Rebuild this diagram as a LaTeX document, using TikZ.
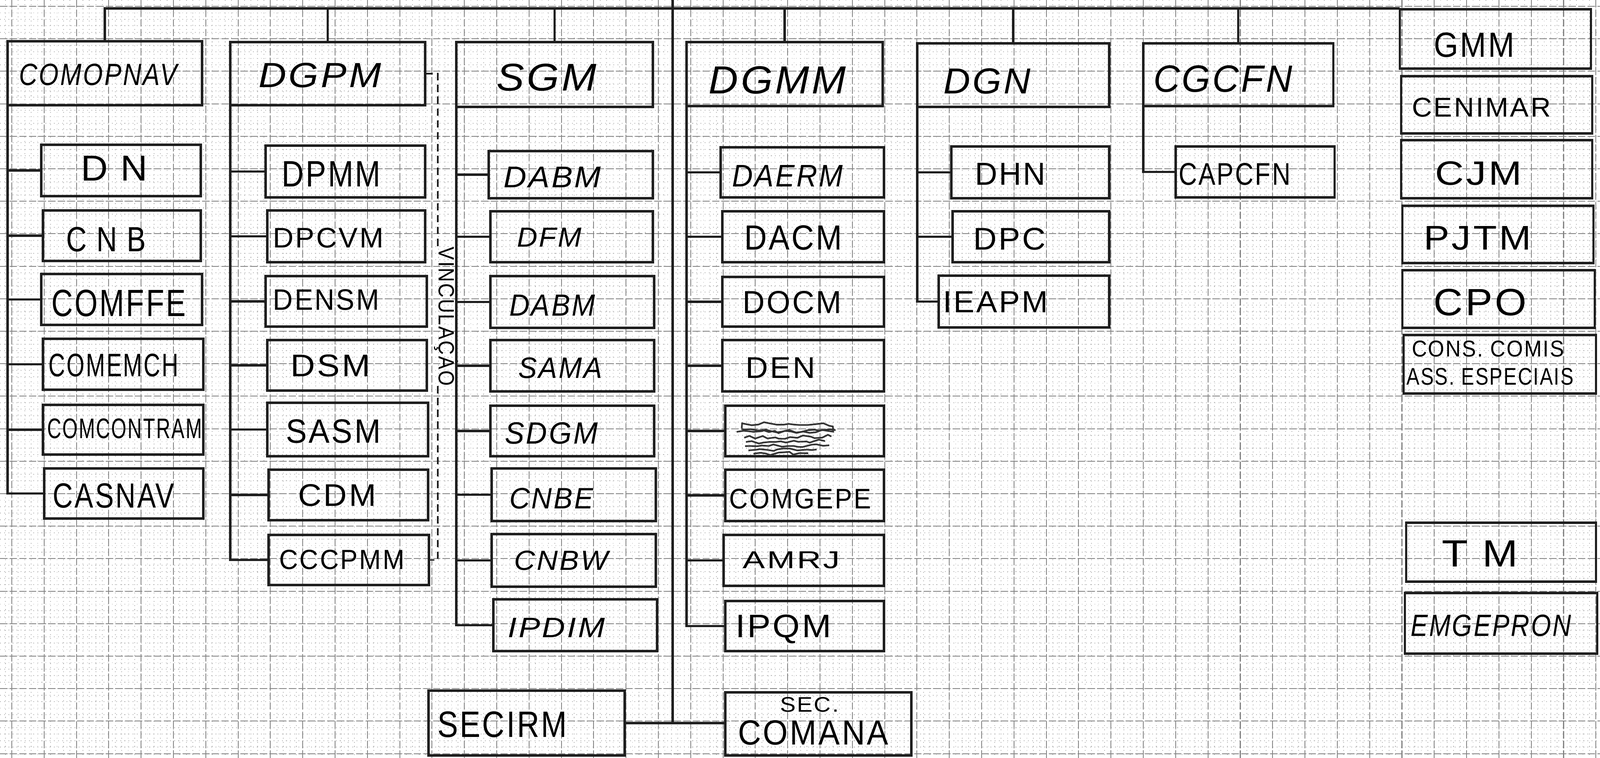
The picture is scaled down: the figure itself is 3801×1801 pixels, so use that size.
\documentclass[tikz,border=0pt]{standalone}
\usepackage{fontspec}
\usepackage{graphicx}
\setmainfont{Liberation Sans}
\newfontfamily\lf[LetterSpace=6]{Liberation Sans}
\usetikzlibrary{decorations.pathmorphing}
\newlength\pxu
\setlength\pxu{0.01cm}
\newcommand\mkbox[5]{\node[bxs, minimum width={(#4-#2)*0.01cm}, minimum height={(#5-#3)*0.01cm}] (#1) at ({(#2+#4)/2},{(#3+#5)/2}) {};}
\newcommand\mklab[6]{\node[inner sep=0pt, outer sep=0pt] (#1) at (#2,#3) {\resizebox{#4\pxu}{#5\pxu}{\lf #6}};}
\tikzset{
  mingrid/.style={black!28, line width=0.5pt, dash pattern=on 0.6pt off 2.2pt},
  majgrid/.style={black!48, line width=0.6pt, dash pattern=on 5pt off 1.5pt},
  bxs/.style={draw=black!88, line width=1.45pt, rectangle, inner sep=0pt, outer sep=0pt},
  ln/.style={black!88, line width=1.45pt},
  vinc/.style={black!88, line width=1.1pt, dash pattern=on 5pt off 3pt},
  scrib/.style={black!80, line width=1.1pt, decorate, decoration={random steps, segment length=4pt, amplitude=1.2pt}}
}
\begin{document}
\begin{tikzpicture}[x=0.01cm, y=-0.01cm]
\useasboundingbox (0,0) rectangle (3801,1801);
\fill[white] (0,0) rectangle (3801,1801);
% graph paper
\draw[mingrid] \foreach \k in {-1,...,245} {({28+15.36*\k},0) -- ({28+15.36*\k},1801)};
\draw[mingrid] \foreach \k in {-1,...,116} {(0,{15+15.44*\k}) -- (3801,{15+15.44*\k})};
\draw[majgrid] \foreach \k in {0,...,49} {({28+76.8*\k},0) -- ({28+76.8*\k},1801)};
\draw[majgrid] \foreach \k in {0,...,23} {(0,{15+77.2*\k}) -- (3801,{15+77.2*\k})};

% ---------- boxes ----------
\mkbox{COMOPNAV}{18}{98}{480}{250}
\mkbox{DN}{98}{344}{477}{466}
\mkbox{CNB}{102}{500}{477}{620}
\mkbox{COMFFE}{98}{651}{480}{772}
\mkbox{COMEMCH}{102}{805}{483}{926}
\mkbox{COMCONTRAM}{102}{962}{483}{1080}
\mkbox{CASNAV}{105}{1113}{483}{1232}

\mkbox{DGPM}{547}{100}{1010}{250}
\mkbox{DPMM}{631}{346}{1010}{469}
\mkbox{DPCVM}{635}{500}{1010}{623}
\mkbox{DENSM}{631}{656}{1014}{776}
\mkbox{DSM}{635}{808}{1014}{928}
\mkbox{SASM}{635}{957}{1017}{1084}
\mkbox{CDM}{638}{1116}{1017}{1236}
\mkbox{CCCPMM}{638}{1271}{1019}{1390}

\mkbox{SGM}{1084}{100}{1551}{254}
\mkbox{DABMa}{1161}{359}{1551}{471}
\mkbox{DFM}{1165}{502}{1551}{623}
\mkbox{DABMb}{1165}{656}{1554}{779}
\mkbox{SAMA}{1165}{808}{1554}{930}
\mkbox{SDGM}{1165}{964}{1554}{1084}
\mkbox{CNBE}{1168}{1113}{1558}{1238}
\mkbox{CNBW}{1168}{1269}{1558}{1394}
\mkbox{IPDIM}{1172}{1424}{1561}{1547}

\mkbox{DGMM}{1631}{100}{2097}{252}
\mkbox{DAERM}{1712}{350}{2100}{469}
\mkbox{DACM}{1716}{502}{2100}{623}
\mkbox{DOCM}{1716}{658}{2100}{776}
\mkbox{DEN}{1716}{808}{2100}{930}
\mkbox{XBOX}{1723}{964}{2100}{1084}
\mkbox{COMGEPE}{1723}{1116}{2100}{1238}
\mkbox{AMRJ}{1719}{1271}{2100}{1392}
\mkbox{IPQM}{1723}{1428}{2100}{1547}

\mkbox{DGN}{2179}{103}{2635}{254}
\mkbox{DHN}{2260}{348}{2635}{471}
\mkbox{DPC}{2263}{502}{2635}{623}
\mkbox{IEAPM}{2230}{655}{2635}{778}

\mkbox{CGCFN}{2716}{103}{3167}{252}
\mkbox{CAPCFN}{2793}{348}{3170}{469}

\mkbox{GMM}{3325}{22}{3779}{163}
\mkbox{CENIMAR}{3328}{181}{3782}{317}
\mkbox{CJM}{3328}{333}{3782}{471}
\mkbox{PJTM}{3331}{489}{3785}{625}
\mkbox{CPO}{3331}{642}{3788}{779}
\mkbox{CONS}{3334}{796}{3791}{935}
\mkbox{TM}{3340}{1242}{3791}{1382}
\mkbox{EMGEPRON}{3337}{1409}{3794}{1553}

\mkbox{SECIRM}{1018}{1641}{1484}{1795}
\mkbox{SECCOMANA}{1723}{1645}{2165}{1795}

% ---------- labels ----------
\mklab{tCOMOPNAV}{233}{177}{375}{51}{\itshape COMOPNAV}
\mklab{tDN}{272}{400}{158}{59}{D N}
\mklab{tCNB}{252}{569}{189}{58}{C N B}
\mklab{tCOMFFE}{282}{720}{319}{63}{COMFFE}
\mklab{tCOMEMCH}{270}{868}{308}{54}{COMEMCH}
\mklab{tCOMCONTRAM}{296}{1018}{368}{47}{COMCONTRAM}
\mklab{tCASNAV}{270}{1178}{288}{58}{CASNAV}

\mklab{tDGPM}{760}{179}{291}{58}{\itshape DGPM}
\mklab{tDPMM}{787}{414}{235}{60}{DPMM}
\mklab{tDPCVM}{780}{565}{263}{47}{DPCVM}
\mklab{tDENSM}{775}{712}{252}{49}{DENSM}
\mklab{tDSM}{785}{869}{189}{52}{DSM}
\mklab{tSASM}{792}{1025}{225}{56}{SASM}
\mklab{tCDM}{801}{1177}{185}{52}{CDM}
\mklab{tCCCPMM}{812}{1330}{298}{46}{CCCPMM}

\mklab{tSGM}{1298}{184}{238}{64}{\itshape SGM}
\mklab{tDABMa}{1312}{421}{232}{49}{\itshape DABM}
\mklab{tDFM}{1305}{564}{154}{45}{\itshape DFM}
\mklab{tDABMb}{1312}{725}{204}{50}{\itshape DABM}
\mklab{tSAMA}{1331}{874}{200}{49}{\itshape SAMA}
\mklab{tSDGM}{1310}{1029}{221}{51}{\itshape SDGM}
\mklab{tCNBE}{1310}{1184}{200}{49}{\itshape CNBE}
\mklab{tCNBW}{1333}{1332}{224}{46}{\itshape CNBW}
\mklab{tIPDIM}{1322}{1491}{231}{46}{\itshape IPDIM}

\mklab{tDGMM}{1847}{190}{326}{65}{\itshape DGMM}
\mklab{tDAERM}{1871}{418}{263}{51}{\itshape DAERM}
\mklab{tDACM}{1884}{565}{232}{58}{DACM}
\mklab{tDOCM}{1882}{718}{235}{53}{DOCM}
\mklab{tDEN}{1854}{874}{165}{49}{DEN}
\mklab{tCOMGEPE}{1901}{1185}{337}{47}{COMGEPE}
\mklab{tAMRJ}{1880}{1331}{231}{40}{AMRJ}
\mklab{tIPQM}{1861}{1495}{228}{54}{IPQM}

\mklab{tDGN}{2345}{193}{207}{60}{\itshape DGN}
\mklab{tDHN}{2400}{414}{168}{52}{DHN}
\mklab{tDPC}{2398}{568}{172}{52}{DPC}
\mklab{tIEAPM}{2365}{717}{250}{50}{IEAPM}

\mklab{tCGCFN}{2905}{187}{330}{63}{\itshape CGCFN}
\mklab{tCAPCFN}{2933}{414}{266}{52}{CAPCFN}

\mklab{tGMM}{3502}{107}{192}{58}{GMM}
\mklab{tCENIMAR}{3519}{255}{330}{45}{CENIMAR}
\mklab{tCJM}{3512}{412}{206}{56}{CJM}
\mklab{tPJTM}{3510}{566}{255}{56}{PJTM}
\mklab{tCPO}{3516}{718}{221}{63}{CPO}
\mklab{tCONSa}{3535}{829}{362}{38}{CONS.\ COMIS}
\mklab{tCONSb}{3540}{895}{397}{40}{ASS.\ ESPECIAIS}
\mklab{tTM}{3516}{1315}{181}{62}{T M}
\mklab{tEMGEPRON}{3542}{1486}{382}{51}{\itshape EMGEPRON}

\mklab{tSECIRM}{1193}{1721}{308}{61}{SECIRM}
\mklab{tSEC}{1923}{1674}{140}{35}{SEC.}
\mklab{tCOMANA}{1932}{1741}{357}{58}{COMANA}

\node[inner sep=0pt, outer sep=0pt, rotate=-90] (tVINC) at (1060,752) {\resizebox{330\pxu}{46\pxu}{\lf VINCULAÇÃO}};

% ---------- scribble in the struck-out box ----------
\draw[scrib] (1762,1017) .. controls (1760,1003) and (1975,1002) .. (1978,1015) .. controls (1980,1028) and (1764,1030) .. (1762,1017);
\draw[scrib] (1750,1026) -- (1985,1022);
\draw[scrib] (1768,1040) -- (1975,1037);
\draw[scrib] (1772,1050) -- (1960,1048);
\draw[scrib] (1770,1060) -- (1970,1058);
\draw[scrib] (1778,1070) -- (1940,1068);
\draw[scrib] (1790,1078) -- (1920,1077);

% ---------- connectors ----------
\coordinate (bus) at (0,20);
\draw[ln] (COMOPNAV.north) |- (GMM.west |- bus);
\foreach \h in {DGPM,SGM,DGMM,DGN,CGCFN} \draw[ln] (\h.north) -- (\h.north |- bus);

\draw[ln] (COMOPNAV.south west) |- (CASNAV.west);
\foreach \c in {DN,CNB,COMFFE,COMEMCH,COMCONTRAM} \draw[ln] (COMOPNAV.south west |- \c.west) -- (\c.west);

\draw[ln] (DGPM.south west) |- (CCCPMM.west);
\foreach \c in {DPMM,DPCVM,DENSM,DSM,SASM,CDM} \draw[ln] (DGPM.south west |- \c.west) -- (\c.west);

\draw[ln] (SGM.south west) |- (IPDIM.west);
\foreach \c in {DABMa,DFM,DABMb,SAMA,SDGM,CNBE,CNBW} \draw[ln] (SGM.south west |- \c.west) -- (\c.west);

\draw[ln] (DGMM.south west) |- (IPQM.west);
\foreach \c in {DAERM,DACM,DOCM,DEN,XBOX,COMGEPE,AMRJ} \draw[ln] (DGMM.south west |- \c.west) -- (\c.west);

\draw[ln] (DGN.south west) |- (IEAPM.west);
\foreach \c in {DHN,DPC} \draw[ln] (DGN.south west |- \c.west) -- (\c.west);

\draw[ln] (CGCFN.south west) |- (CAPCFN.west);

% long line down to the secretariats
\coordinate (lv) at (1598,0);
\draw[ln] (lv) -- (lv |- SECIRM.east);
\draw[ln] (SECIRM.east) -- (SECIRM.east -| SECCOMANA.west);

% vinculacao bracket
\coordinate (vx) at (1040,0);
\draw[vinc] (DGPM.east) -- (vx |- DGPM.east) -- (vx |- tVINC.west);
\draw[vinc] (vx |- tVINC.east) -- (vx |- CCCPMM.east) -- (CCCPMM.east);
\end{tikzpicture}
\end{document}
